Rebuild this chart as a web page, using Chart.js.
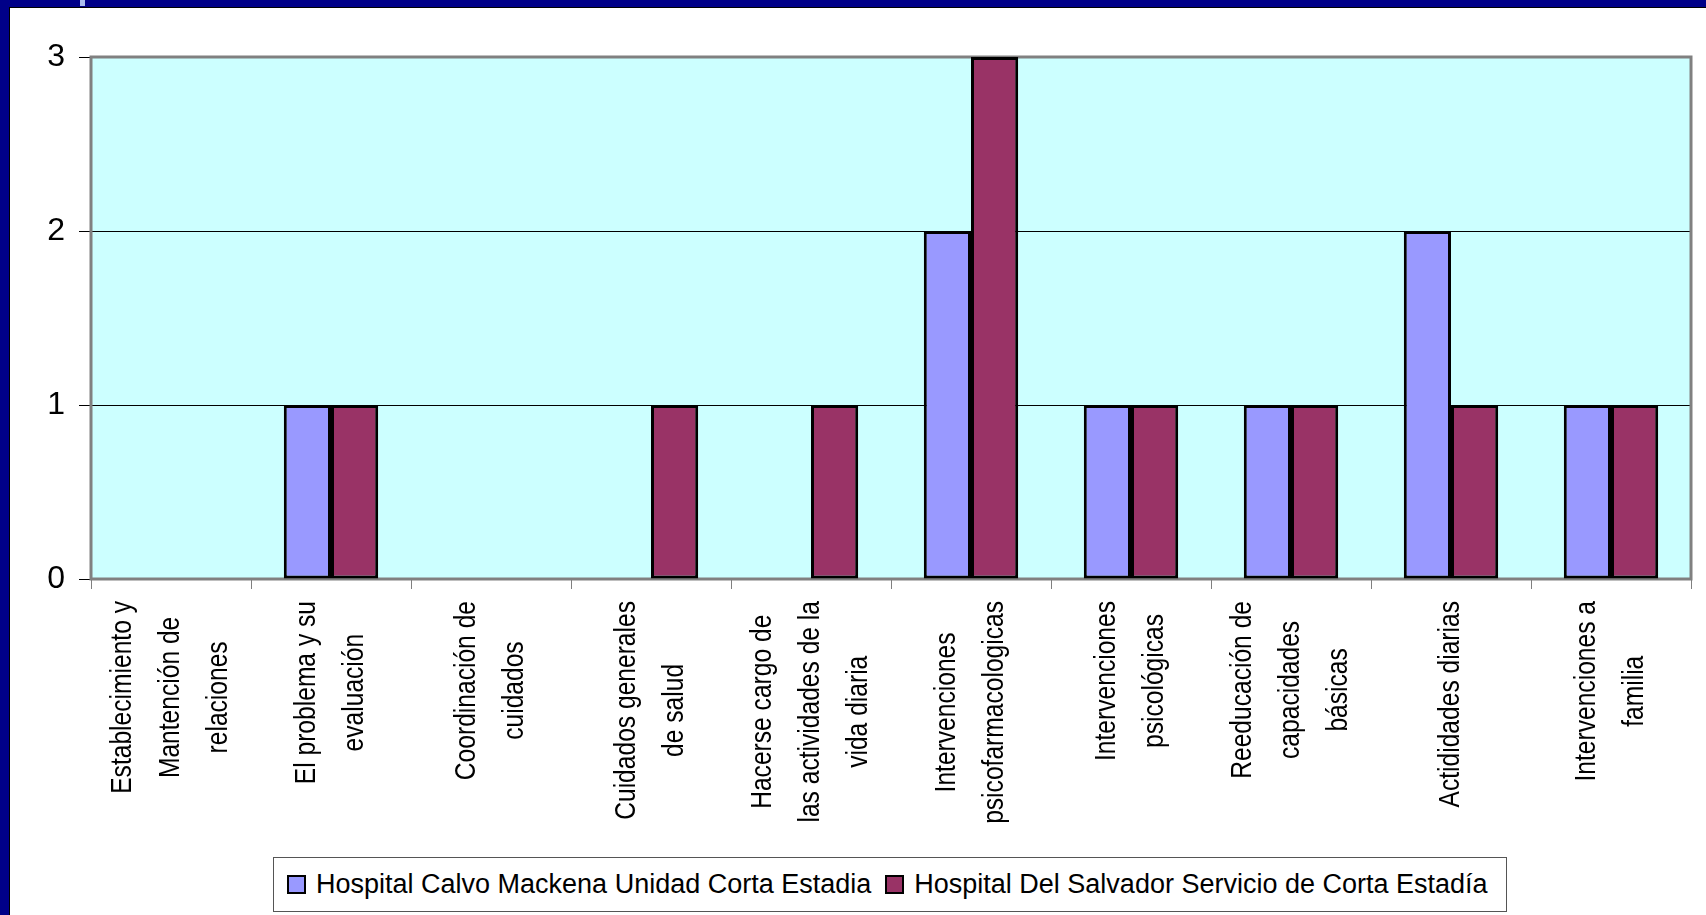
<!DOCTYPE html>
<html>
<head>
<meta charset="utf-8">
<title>Intervenciones por hospital</title>
<script src="https://cdn.jsdelivr.net/npm/chart.js@4/dist/chart.umd.min.js"></script>
<style>
  html, body { margin: 0; padding: 0; }
  body { width: 1706px; height: 915px; background: #000088; position: relative; overflow: hidden; font-family: "Liberation Sans", Arial, sans-serif; }
  #sheet { position: absolute; left: 9px; top: 7px; width: 1697px; height: 908px; background: #fff; border-left: 1px solid #000; border-top: 1px solid #000; box-sizing: border-box; }
  #mark { position: absolute; left: 80px; top: 0; width: 5px; height: 6px; background: #aabbee; }
  #chart { position: absolute; left: 0; top: 0; }
  #legend { position: absolute; left: 263px; top: 849px; width: 1234px; height: 55px; border: 1px solid #555; box-sizing: border-box; background: #fff; display: flex; align-items: center; padding-left: 13px; }
  .item { display: flex; align-items: center; margin-right: 14px; font-size: 27px; color: #000; white-space: nowrap; }
  .box { width: 15px; height: 15px; border: 2px solid #000; margin-right: 10px; }
</style>
</head>
<body>
<div id="mark"></div>
<div id="sheet">
  <canvas id="chart" width="1697" height="908"></canvas>
  <div id="legend"></div>
</div>
<script>
// categories (multi line, as on the slide)
const categories = [
  ["Establecimiento y", "Mantención de", "relaciones"],
  ["El problema y su", "evaluación"],
  ["Coordinación de", "cuidados"],
  ["Cuidados generales", "de salud"],
  ["Hacerse cargo de", "las actividades de la", "vida diaria"],
  ["Intervenciones", "psicofarmacologicas"],
  ["Intervenciones", "psicológicas"],
  ["Reeducación de", "capacidades", "básicas"],
  ["Actididades diarias"],
  ["Intervenciones a", "familia"]
];

const seriesNames = [
  "Hospital Calvo Mackena Unidad Corta Estadia",
  "Hospital Del Salvador Servicio de Corta Estadía"
];
const calvoMackena = [0, 1, 0, 0, 0, 2, 1, 1, 2, 1];
const delSalvador = [0, 1, 0, 1, 1, 3, 1, 1, 1, 1];
const yTicks = [0, 1, 2, 3];

const colors = ["#9999ff", "#993366"];

// cyan plot background + grey frame
const plotArea = {
  id: "plotArea",
  beforeDraw(chart) {
    const a = chart.chartArea, ctx = chart.ctx;
    ctx.save();
    ctx.fillStyle = "#ccffff";
    ctx.fillRect(a.left, a.top, a.right - a.left, a.bottom - a.top);
    ctx.restore();
  },
  beforeDatasetsDraw(chart) {
    const a = chart.chartArea, ctx = chart.ctx;
    ctx.save();
    ctx.strokeStyle = "#808080";
    ctx.lineWidth = 3;
    ctx.strokeRect(a.left, a.top, a.right - a.left, a.bottom - a.top);
    ctx.restore();
  }
};

// vertical labels reading bottom-to-top, lines centred on each other
// the slide font is condensed, so squeeze along the text direction
const xLabels = {
  id: "xLabels",
  afterDraw(chart) {
    const ctx = chart.ctx, xs = chart.scales.x;
    const top = chart.chartArea.bottom + 22;
    const lineGap = 48;
    const squeeze = 0.82;
    ctx.save();
    ctx.font = "30px 'Liberation Sans', Arial, sans-serif";
    ctx.fillStyle = "#000";
    ctx.textAlign = "center";
    ctx.textBaseline = "middle";
    categories.forEach(function(lines, i) {
      const cx = xs.getPixelForValue(i);
      let maxW = 0;
      lines.forEach(function(l) { maxW = Math.max(maxW, ctx.measureText(l).width * squeeze); });
      const cy = top + maxW / 2;
      lines.forEach(function(l, j) {
        const lx = cx + (j - (lines.length - 1) / 2) * lineGap;
        ctx.save();
        ctx.translate(lx, cy);
        ctx.rotate(-Math.PI / 2);
        ctx.scale(squeeze, 1);
        ctx.fillText(l, 0, 0);
        ctx.restore();
      });
    });
    ctx.restore();
  }
};

const chart = new Chart(document.getElementById("chart"), {
  type: "bar",
  data: {
    labels: categories.map(function(c) { return c.join(" "); }),
    datasets: [
      { label: seriesNames[0], data: calvoMackena, backgroundColor: colors[0], borderColor: "#000", borderWidth: 3, borderSkipped: false },
      { label: seriesNames[1], data: delSalvador, backgroundColor: colors[1], borderColor: "#000", borderWidth: 3, borderSkipped: false }
    ]
  },
  options: {
    responsive: false,
    devicePixelRatio: 1,
    animation: false,
    layout: { padding: { top: 49, right: 16, left: 0, bottom: 0 } },
    datasets: { bar: { categoryPercentage: 0.59, barPercentage: 1 } },
    plugins: { legend: { display: false }, tooltip: { enabled: false } },
    scales: {
      x: {
        ticks: { display: false },
        grid: { drawOnChartArea: false, tickLength: 10, color: "#808080", lineWidth: 1 },
        border: { display: false },
        afterFit: function(s) { s.height = 337; }
      },
      y: {
        min: 0,
        max: 3,
        afterBuildTicks: function(s) { s.ticks = yTicks.map(function(v) { return { value: v }; }); },
        ticks: { color: "#000", padding: 14, font: { size: 32, family: "'Liberation Sans', Arial, sans-serif" } },
        grid: { color: "#000", lineWidth: 1, tickLength: 12, tickColor: "#000" },
        border: { display: false },
        afterFit: function(s) { s.width = 81; }
      }
    }
  },
  plugins: [plotArea, xLabels]
});

// legend box under the chart
const legend = document.getElementById("legend");
seriesNames.forEach(function(name, i) {
  const item = document.createElement("div");
  item.className = "item";
  const box = document.createElement("div");
  box.className = "box";
  box.style.background = colors[i];
  item.appendChild(box);
  item.appendChild(document.createTextNode(name));
  legend.appendChild(item);
});
</script>
</body>
</html>
